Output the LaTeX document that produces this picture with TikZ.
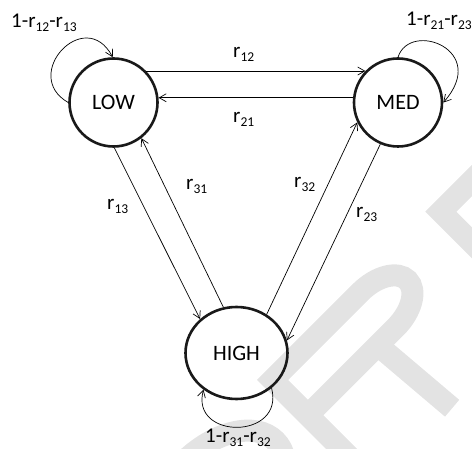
\documentclass[tikz,border=0pt]{standalone}
\usepackage{fontspec}
\setmainfont{Carlito}
\usetikzlibrary{arrows.meta,shapes.geometric}
% rate symbol r with a lowered index
\newcommand{\rsub}[1]{r\raisebox{-3.5pt}{\fontsize{13.5}{13.5}\selectfont #1}}

\begin{document}
\begin{tikzpicture}[x=1pt,y=-1pt,
  state/.style={draw=black!90, line width=2.6pt, inner sep=0pt,
    font=\fontsize{22}{22}\selectfont},
  roundstate/.style={state, circle, minimum size=88pt},
  ovalstate/.style={state, ellipse, minimum width=102pt, minimum height=92pt},
  edge/.style={line width=0.7pt, -{Straight Barb[length=7pt,width=8pt]}},
  lbl/.style={inner sep=0pt, anchor=base west, font=\fontsize{21}{21}\selectfont},
  stampstroke/.style={draw=black!11, line width=22pt, line cap=butt, line join=miter}]
\useasboundingbox (0,0) rectangle (472,449);

% background stamp letters (O, R, R) drawn as strokes along a 45 degree baseline
\begin{scope}
  \clip (0,0) rectangle (472,449);
  \begin{scope}[shift={(340.4,463.4)}, x={(0.7071pt,0.7071pt)}, y={(-0.7071pt,0.7071pt)}]
    \draw[stampstroke] (-110,62) ellipse [x radius=80, y radius=50];
    \foreach \dx in {0,238} {
      \begin{scope}[shift={(\dx,0)}]
        \draw[stampstroke] (11,-40) -- (11,107) -- (135,107)
          arc[start angle=90, end angle=-90, x radius=42, y radius=25] -- (11,57);
        \draw[stampstroke] (110,57) -- (118,-40);
      \end{scope}
    }
  \end{scope}
\end{scope}

% states
\node[roundstate] (low) at (113.5,102.5) {LOW};
\node[roundstate] (med) at (398,102.5) {MED};
\node[ovalstate] (high) at (236.5,353) {HIGH};

% transitions between states
\draw[edge] (low.44) -- (med.136);
\draw[edge] (med.174) -- (low.6);
\draw[edge] (low.-89) -- (high.137);
\draw[edge] (high.106) -- (low.-52);
\draw[edge] (high.52) -- (med.-154.5);
\draw[edge] (med.-113.6) -- (high.14);

% self loops
\draw[edge] (low.180) .. controls (20,75) and (85,5) .. (low.91);
\draw[edge] (med.90) .. controls (410,20) and (490,50) .. (med.0);
\draw[edge] (high.-45) .. controls (285,440) and (190,440) .. (high.-132);

% rate labels
\node[lbl] (l12) at (233,58) {\rsub{12}};
\node[lbl] (l21) at (233,123) {\rsub{21}};
\node[lbl] (l13) at (107,210) {\rsub{13}};
\node[lbl] (l31) at (186,190) {\rsub{31}};
\node[lbl] (l32) at (294,188) {\rsub{32}};
\node[lbl] (l23) at (356,218) {\rsub{23}};
\node[lbl] (stay1) at (11,28) {1-\rsub{12}-\rsub{13}};
\node[lbl] (stay2) at (406,26) {1-\rsub{21}-\rsub{23}};
\node[lbl] (stay3) at (205,443) {1-\rsub{31}-\rsub{32}};
\end{tikzpicture}
\end{document}
